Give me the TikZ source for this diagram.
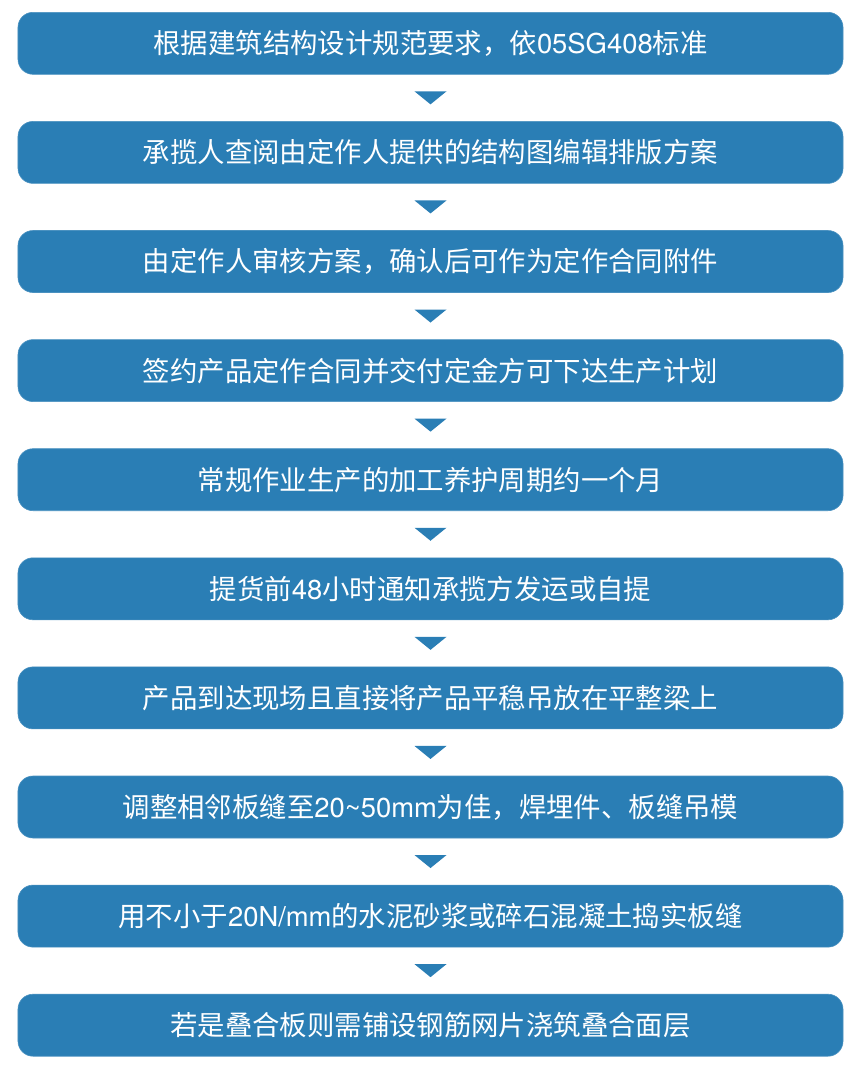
\documentclass[tikz,border=0pt]{standalone}
\usepackage{fontspec}
\setmainfont{Noto Sans CJK SC}
\newfontfamily\lat{TeX Gyre Heros}
\usetikzlibrary{calc}
\definecolor{boxblue}{HTML}{2A7EB5}
\begin{document}
\begin{tikzpicture}[x=1bp,y=-1bp,
  stepbox/.style={fill=boxblue, draw=boxblue!85!white, line width=0.6bp, rounded corners=15bp,
    minimum width=825bp, minimum height=62bp, inner sep=0pt, text=white,
    font=\fontsize{27.5}{30}\selectfont, anchor=north},
  arrowtri/.style={fill=boxblue}]
\useasboundingbox (0,0) rectangle (859,1078);
\foreach \i/\t in {
  1/{根据建筑结构设计规范要求，依{\lat 05SG408}标准},
  2/{承揽人查阅由定作人提供的结构图编辑排版方案},
  3/{由定作人审核方案，确认后可作为定作合同附件},
  4/{签约产品定作合同并交付定金方可下达生产计划},
  5/{常规作业生产的加工养护周期约一个月},
  6/{提货前{\lat 48}小时通知承揽方发运或自提},
  7/{产品到达现场且直接将产品平稳吊放在平整梁上},
  8/{调整相邻板缝至{\lat 20\textasciitilde50mm}为佳，焊埋件、板缝吊模},
  9/{用不小于{\lat 20N/mm}的水泥砂浆或碎石混凝土捣实板缝},
  10/{若是叠合板则需铺设钢筋网片浇筑叠合面层}}
{
  \node[stepbox] (b\i) at (430.5,{12+109.1*(\i-1)}) {\t};
}
\foreach \i [evaluate=\i as \j using int(\i+1)] in {1,...,9}{
  \coordinate (m\i) at ($(b\i.south)!0.5!(b\j.north)$);
  \fill[arrowtri] ($(m\i)+(-16,-6.5)$) -- ($(m\i)+(16,-6.5)$) -- ($(m\i)+(0,6.5)$) -- cycle;
}
\end{tikzpicture}
\end{document}
